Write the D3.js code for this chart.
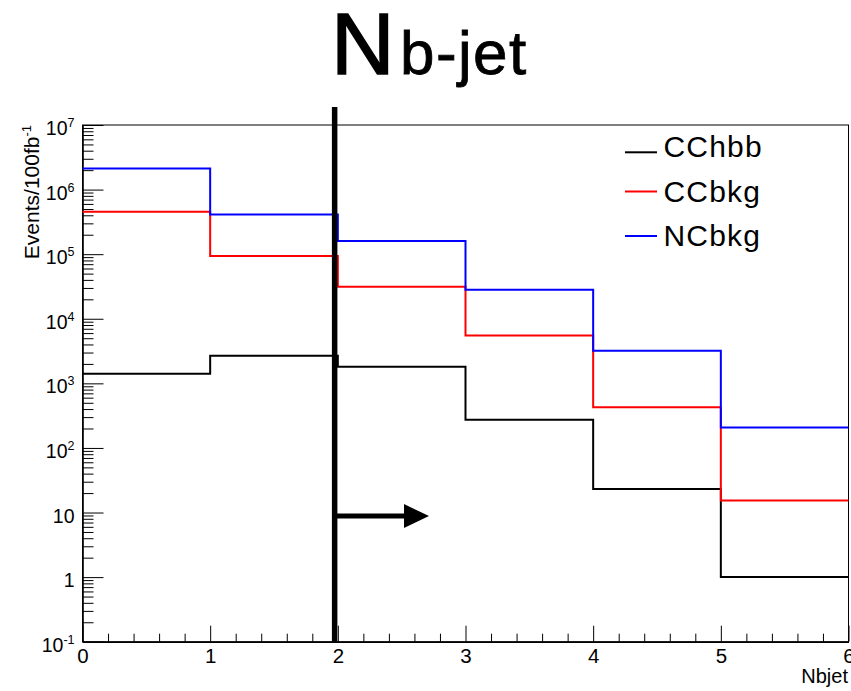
<!DOCTYPE html>
<html><head><meta charset="utf-8">
<script src="https://cdn.jsdelivr.net/npm/d3@7"></script>
<style>
body{margin:0;background:#fff}
svg{display:block}
text{font-family:"Liberation Sans",Arial,Helvetica,sans-serif;fill:#000}
</style>
</head><body>
<svg id="chart" width="851" height="691"></svg>
<script>
// ---- data ----
const binEdges = [0, 1, 2, 3, 4, 5, 6];
const seriesNames = ["CChbb", "CCbkg", "NCbkg"];
const seriesColors = ["#000000", "#ff0000", "#0000ff"];
const cchbb = [1410, 2670, 1810, 273, 23.1, 1.0];
const ccbkg = [453000, 94000, 31300, 5500, 425, 15.4];
const ncbkg = [2130000, 413000, 160000, 28100, 3200, 208];
const yTickBases = ["10", "1", "10", "10", "10", "10", "10", "10", "10"];
const yTickExps  = ["-1", "", "", "2", "3", "4", "5", "6", "7"];
const yTickValues = [0.1, 1, 10, 100, 1e3, 1e4, 1e5, 1e6, 1e7];
const xTickLabels = ["0", "1", "2", "3", "4", "5", "6"];
const cutValue = 1.975;       // vertical cut line position (Nbjet)
const cutTop = 1.9e7;         // top of cut line (extends above frame)
const arrowEnd = 2.714;       // arrow tip
const arrowLevel = 8.8;       // arrow height (events)
const titleMain = "N", titleSub = "b-jet";
const xTitle = "Nbjet";
const yTitle = "Events/100fb", yTitleExp = "-1";

// ---- layout ----
const svg = d3.select("#chart");
const L = 82.5, R = 848.5, T = 125, B = 641.7;
const x = d3.scaleLinear().domain([0, 6]).range([L, R]);
const y = d3.scaleLog().domain([0.1, 1e7]).range([B, T]);

// frame
svg.append("rect").attr("x", L).attr("y", T).attr("width", R - L).attr("height", B - T)
  .attr("fill", "none").attr("stroke", "#000").attr("stroke-width", 1);

// Y axis: minor ticks
const yMinor = y.ticks().filter(v => yTickValues.every(m => Math.abs(v / m - 1) > 1e-6));
svg.append("g").attr("transform", `translate(${L},0)`)
  .call(d3.axisLeft(y).tickValues(yMinor).tickSize(-11).tickSizeOuter(0).tickFormat(""))
  .call(g => g.select(".domain").remove())
  .call(g => g.selectAll("line").attr("stroke", "#000").attr("stroke-width", 1));
// Y axis: major ticks + labels
const gy = svg.append("g").attr("transform", `translate(${L},0)`)
  .call(d3.axisLeft(y).tickValues(yTickValues).tickSize(-21).tickSizeOuter(0).tickFormat(""))
  .call(g => g.select(".domain").attr("stroke", "#000").attr("stroke-width", 1.6))
  .call(g => g.selectAll("line").attr("stroke", "#000").attr("stroke-width", 1));
gy.selectAll(".tick").each(function(d, i) {
  const t = d3.select(this).append("text").attr("x", -8).attr("y", 9.5)
    .attr("text-anchor", "end").attr("font-size", 19.5);
  t.append("tspan").text(yTickBases[i]);
  if (yTickExps[i]) t.append("tspan").attr("font-size", 12.5).attr("dy", -8).text(yTickExps[i]);
});

// X axis: minor + major ticks
const xMinor = d3.range(0, 30.5).map(k => k / 5).filter(v => Math.abs(v - Math.round(v)) > 1e-6);
svg.append("g").attr("transform", `translate(0,${B})`)
  .call(d3.axisBottom(x).tickValues(xMinor).tickSize(-8).tickSizeOuter(0).tickFormat(""))
  .call(g => g.select(".domain").remove())
  .call(g => g.selectAll("line").attr("stroke", "#000").attr("stroke-width", 1));
svg.append("g").attr("transform", `translate(0,${B})`)
  .call(d3.axisBottom(x).tickValues(binEdges).tickSize(-16).tickSizeOuter(0)
        .tickFormat((d, i) => xTickLabels[i]).tickPadding(6))
  .call(g => g.select(".domain").attr("stroke", "#000").attr("stroke-width", 1.6))
  .call(g => g.selectAll("line").attr("stroke", "#000").attr("stroke-width", 1))
  .call(g => g.selectAll("text").attr("font-size", 20.5).attr("font-family", "Liberation Sans, Arial, sans-serif")
        .attr("fill", "#000").attr("dy", "0.71em").attr("y", 7));

// histograms
const allSeries = [cchbb, ccbkg, ncbkg];
const step = d3.line().x(d => x(d[0])).y(d => y(d[1])).curve(d3.curveStepAfter);
allSeries.forEach((vals, si) => {
  const pts = vals.map((v, i) => [binEdges[i], v]);
  pts.push([binEdges[binEdges.length - 1], vals[vals.length - 1]]);
  svg.append("path").attr("d", step(pts)).attr("fill", "none")
    .attr("stroke", seriesColors[si]).attr("stroke-width", 2);
});

// cut line and arrow
svg.append("line").attr("x1", x(cutValue)).attr("x2", x(cutValue))
  .attr("y1", y(cutTop)).attr("y2", y(0.1)).attr("stroke", "#000").attr("stroke-width", 5.5);
const ay = y(arrowLevel), tip = x(arrowEnd);
svg.append("line").attr("x1", x(cutValue)).attr("x2", tip - 20).attr("y1", ay).attr("y2", ay)
  .attr("stroke", "#000").attr("stroke-width", 5);
svg.append("path").attr("d", `M${tip},${ay}L${tip - 25},${ay - 12}L${tip - 25},${ay + 12}Z`).attr("fill", "#000");

// legend
const legY = [152.3, 191.5, 236];
const legTextY = [157, 201.5, 246];
seriesNames.forEach((name, i) => {
  svg.append("line").attr("x1", 625).attr("x2", 657).attr("y1", legY[i]).attr("y2", legY[i])
    .attr("stroke", seriesColors[i]).attr("stroke-width", 2);
  svg.append("text").attr("x", 663.5).attr("y", legTextY[i]).attr("font-size", 30)
    .attr("letter-spacing", 1.2).text(name);
});

// title
svg.append("text").attr("x", 331).attr("y", 74).attr("font-size", 88)
  .attr("stroke", "#000").attr("stroke-width", 1.6).text(titleMain);
svg.append("text").attr("x", 400).attr("y", 74).attr("font-size", 62)
  .attr("letter-spacing", 1.4).attr("stroke", "#000").attr("stroke-width", 0.8).text(titleSub);

// axis titles
svg.append("text").attr("x", 848).attr("y", 683).attr("text-anchor", "end").attr("font-size", 20).text(xTitle);
const yt = svg.append("text").attr("transform", "translate(38.5,125) rotate(-90)")
  .attr("text-anchor", "end").attr("font-size", 21);
yt.append("tspan").text(yTitle);
yt.append("tspan").attr("font-size", 13).attr("dy", -8).text(yTitleExp);
</script>
</body></html>
